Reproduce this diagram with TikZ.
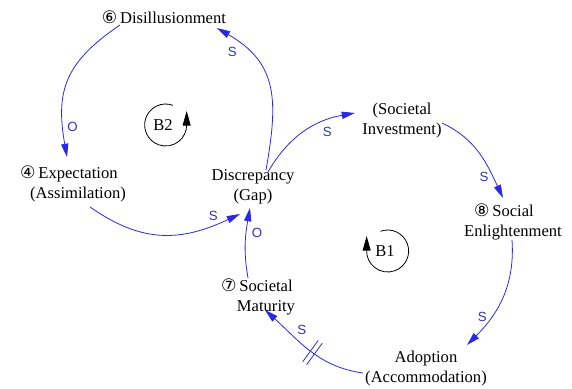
\documentclass[tikz,border=0pt]{standalone}
\usepackage{fontspec}
\setmainfont{Liberation Serif}
\newfontfamily\circfont{DejaVu Sans}
\newfontfamily\polfont{Liberation Sans}
\usetikzlibrary{arrows.meta}
\definecolor{linkblue}{RGB}{40,40,230}
\definecolor{polblue}{RGB}{50,50,190}
\newcommand{\cnum}[1]{\llap{{\circfont\fontsize{13}{13}\selectfont #1}\,}}

\begin{document}
\begin{tikzpicture}[x=0.0265cm,y=0.0265cm,->,>={Triangle[length=10pt,width=5.5pt]},
    var node/.style={align=center,anchor=base,inner sep=1pt,font=\fontsize{12.5}{15}\selectfont},
    link/.style={color=linkblue,line width=.6pt},
    pol/.style={text=polblue,font=\polfont\fontsize{10}{10}\selectfont,inner sep=1pt},
    delaymark/.style={inner sep=0pt,minimum width=0.11cm,minimum height=0.68cm},
    loop/.style={line width=.6pt,>={Triangle[length=11pt,width=6pt]}}]
  \useasboundingbox (0,0) rectangle (572,-389);

  % variables (base = last line)
  \node[var node] (dis) at (173,-23) {\cnum{⑥}Disillusionment};
  \node[var node] (exp) at (78,-198) {\cnum{④}Expectation\\(Assimilation)};
  \node[var node] (gap) at (253,-200) {Discrepancy\\(Gap)};
  \node[var node] (inv) at (402,-134) {(Societal\\Investment)};
  \node[var node] (enl) at (513,-236) {\cnum{⑧}Social\\Enlightenment};
  \node[var node] (mat) at (266,-311) {\cnum{⑦}Societal\\Maturity};
  \node[var node] (ado) at (426,-382) {Adoption\\(Accommodation)};

  % loop markers
  \node[var node,anchor=center] (b2) at (163,-125) {B2};
  \node[var node,anchor=center] (b1) at (385,-251) {B1};
  \draw[loop] ([xshift=2]b2.center) ++(70:21) arc[start angle=70,end angle=360,radius=21] -- ++(0,14);
  \draw[loop] ([xshift=2]b1.center) ++(110:21) arc[start angle=110,end angle=-180,radius=21] -- ++(0,15);

  % causal links
  \path[link]
    ([shift={(-53,-2)}]dis.base) edge[out=214,in=100,looseness=1.2] node[pol,pos=.83,right=2pt] {O} ([shift={(-11,41)}]exp.base)
    ([shift={(13,30)}]gap.base) edge[out=80,in=-30,looseness=1.2] node[pol,pos=.78,left=8pt] {S} ([shift={(44,-5)}]dis.base)
    ([shift={(12,-9)}]exp.base) edge[out=-35,in=205,looseness=1.1] node[pol,pos=.84,above=2pt] {S} ([shift={(-13,-14)}]gap.base)
    ([shift={(15,28)}]gap.base) edge[out=60,in=190] node[pol,pos=.75,below=4pt] {S} ([shift={(-47,21)}]inv.base)
    ([shift={(40,11)}]inv.base) edge[out=-25,in=115] node[pol,pos=.78,left=2pt] {S} ([shift={(-10,38)}]enl.base)
    ([shift={(-1,-4)}]enl.base) edge[out=-86,in=45] node[pol,pos=.7,left=2pt] {S} ([shift={(41,37)}]ado.base)
    ([shift={(-63,9)}]ado.base) edge[out=172,in=-42] node[pos=.47,sloped,delaymark] (dl) {}
                                node[pol,pos=.68,above right=1pt] {S} ([shift={(-1,1)}]mat.base)
    ([shift={(-18,33)}]mat.base) edge[out=100,in=-100] node[pol,pos=.65,right=3pt] {O} ([shift={(-3,-8)}]gap.base);
  \draw[link,-] (dl.north west) -- (dl.south west) (dl.north east) -- (dl.south east);
\end{tikzpicture}
\end{document}
